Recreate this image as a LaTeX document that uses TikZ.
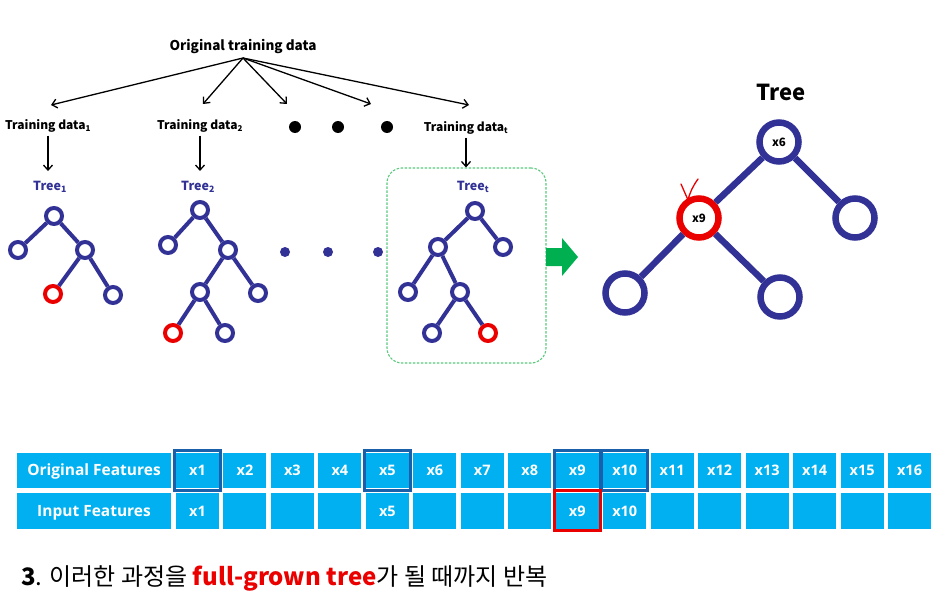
\documentclass[tikz,border=0pt]{standalone}
\usepackage{fontspec}
\setmainfont{Noto Sans CJK KR}
\newfontfamily\gill{Open Sans}
\usetikzlibrary{arrows.meta}
\definecolor{navy}{RGB}{50,50,150}
\definecolor{cellblue}{RGB}{0,176,240}
\definecolor{hiblue}{RGB}{25,95,170}
\definecolor{boxgreen}{RGB}{90,200,125}
\definecolor{arrgreen}{RGB}{0,176,80}
\definecolor{myred}{RGB}{235,0,0}
\begin{document}
\begin{tikzpicture}[x=1pt,y=-1pt,
  tn/.style={circle,draw=navy,line width=4pt,fill=white,minimum size=16pt,inner sep=0pt},
  rn/.style={tn,draw=myred},
  te/.style={draw=navy,line width=4pt},
  bn/.style={circle,draw=navy,line width=6.5pt,fill=white,minimum size=39pt,inner sep=0pt,font=\bfseries\fontsize{11.5}{11.5}\selectfont},
  brn/.style={bn,draw=myred},
  be/.style={draw=navy,line width=6.5pt},
  arr/.style={-{Straight Barb[length=5pt,width=9pt]},line width=1.3pt},
  lab/.style={font=\bfseries\fontsize{12}{12}\selectfont,inner sep=1pt},
  tlab/.style={font=\bfseries\fontsize{12.5}{13}\selectfont,text=navy,inner sep=1pt},
  bdot/.style={circle,fill=black,minimum size=12pt,inner sep=0pt},
  ndot/.style={circle,fill=navy,minimum size=10pt,inner sep=0pt},
  hdr/.style={fill=cellblue,text=white,inner sep=0pt,minimum width=154pt,text height=10pt,text depth=0pt,font=\gill\bfseries\fontsize{15.5}{16}\selectfont},
  cell/.style={fill=cellblue,text=white,inner sep=0pt,minimum width=43pt,text height=10pt,text depth=0pt,font=\gill\bfseries\fontsize{14.5}{15}\selectfont},
  ctext/.style={text=white,inner sep=0pt,text height=10pt,text depth=0pt,font=\gill\bfseries\fontsize{14.5}{15}\selectfont},
  hi/.style={draw=hiblue,line width=3pt},
  hr/.style={draw=myred,line width=3pt}
]
\useasboundingbox (0,0) rectangle (952,599);

% ---------- top distribution ----------
\node[font=\bfseries\fontsize{13.5}{14}\selectfont] (orig) at (243,47) {Original training data};
\coordinate (src) at (243,58);
\coordinate (e1) at (51,105);
\coordinate (e2) at (203,104);
\coordinate (e3) at (287,104);
\coordinate (e4) at (371,104);
\coordinate (e5) at (469,105);
\foreach \e in {e1,e2,e3,e4,e5} \draw[arr] (src) -- (\e);

\node[lab] (td1) at (48,126) {Training data\textsubscript{1}};
\node[lab] (td2) at (200,126) {Training data\textsubscript{2}};
\node[lab] (tdt) at (466,128) {Training data\textsubscript{t}};
\node[bdot] (d1) at (295,127) {};
\node[bdot] (d2) at (338,127) {};
\node[bdot] (d3) at (387,127) {};

% ---------- tree labels ----------
\node[tlab] (t1lab) at (50,187) {Tree\textsubscript{1}};
\node[tlab] (t2lab) at (198,187) {Tree\textsubscript{2}};
\node[tlab] (ttlab) at (473,187) {Tree\textsubscript{t}};

\draw[arr,shorten <=2pt,shorten >=9pt] (td1.south) -- (td1.south |- t1lab.north);
\draw[arr,shorten <=2pt,shorten >=9pt] (td2.south) -- (td2.south |- t2lab.north);

% ---------- green box ----------
\node[draw=boxgreen,line width=1.1pt,dash pattern=on 2.5pt off 1.5pt,rounded corners=15pt,minimum width=159pt,minimum height=195pt] (box) at (466.5,265.5) {};
\draw[arr,shorten <=2pt] (tdt.south) -- (tdt.south |- box.north);

% ---------- tree 1 ----------
\node[tn] (a1) at (54,216) {};
\node[tn] (a2) at (18,250) {};
\node[tn] (a3) at (85,250) {};
\node[rn] (a4) at (53,294) {};
\node[tn] (a5) at (113,295) {};
\draw[te] (a1) -- (a2);
\draw[te] (a1) -- (a3);
\draw[te] (a3) -- (a4);
\draw[te] (a3) -- (a5);

% ---------- tree 2 ----------
\node[tn] (b1) at (200,210) {};
\node[tn] (b2) at (168,245) {};
\node[tn] (b3) at (228,250) {};
\node[tn] (b4) at (200,292) {};
\node[tn] (b5) at (258,293) {};
\node[rn] (b6) at (173,333) {};
\node[tn] (b7) at (225,333) {};
\draw[te] (b1) -- (b2);
\draw[te] (b1) -- (b3);
\draw[te] (b3) -- (b4);
\draw[te] (b3) -- (b5);
\draw[te] (b4) -- (b6);
\draw[te] (b4) -- (b7);

% ---------- dots ----------
\node[ndot] (n1) at (285,252) {};
\node[ndot] (n2) at (328,252) {};
\node[ndot] (n3) at (378,252) {};

% ---------- tree t ----------
\node[tn] (c1) at (475,211) {};
\node[tn] (c2) at (438,247) {};
\node[tn] (c3) at (503,247) {};
\node[tn] (c4) at (408,292) {};
\node[tn] (c5) at (460,292) {};
\node[tn] (c6) at (432,333) {};
\node[rn] (c7) at (488,333) {};
\draw[te] (c1) -- (c2);
\draw[te] (c1) -- (c3);
\draw[te] (c2) -- (c4);
\draw[te] (c2) -- (c5);
\draw[te] (c5) -- (c6);
\draw[te] (c5) -- (c7);

% ---------- green arrow ----------
\fill[arrgreen] (546,248) -- (562,248) -- (562,238) -- (578,257) -- (562,276) -- (562,266) -- (546,266) -- cycle;

% ---------- big tree ----------
\node[font=\bfseries\fontsize{22}{22}\selectfont] (treelab) at (781,92) {Tree};
\node[bn] (x6) at (779,142) {x6};
\node[brn] (x9) at (699,218) {x9};
\node[bn] (br) at (855,218) {};
\node[bn] (bl) at (625,293) {};
\node[bn] (bm) at (780,297) {};
\draw[be] (x6) -- (x9);
\draw[be] (x6) -- (br);
\draw[be] (x9) -- (bl);
\draw[be] (x9) -- (bm);
\draw[myred,line width=1.3pt,line cap=round,line join=round] (681,184) -- (688,200) .. controls (690,192) and (693,186) .. (698,179);

% ---------- feature table ----------
\node[hdr,minimum height=35pt] (oh) at (94,470.5) {Original Features};
\node[hdr,minimum height=36pt] (ih) at (94,511) {Input Features};
\foreach \i in {1,...,16} {
  \node[cell,minimum height=35pt] (o\i) at ({197.5+(\i-1)*47.47},470.5) {x\i};
}
\foreach \i in {1,...,16} {
  \node[cell,minimum height=36pt] (i\i) at ({197.5+(\i-1)*47.47},511) {};
}
\foreach \i in {1,5,9,10} {
  \node[ctext] (it\i) at (i\i) {x\i};
}
\foreach \i in {1,5,9,10} {
  \draw[hi] ([shift={(-1.5,-2)}]o\i.north west) rectangle ([shift={(1.5,2)}]o\i.south east);
}
\draw[hr] ([shift={(-1.5,-2)}]i9.north west) rectangle ([shift={(1.5,1.5)}]i9.south east);

% ---------- caption ----------
\node[anchor=base west,inner sep=0pt,font=\fontsize{24}{24}\selectfont] (caption) at (21,585) {\textbf{3}. 이러한 과정을 \textcolor{myred}{\textbf{full-grown tree}}가 될 때까지 반복};
\end{tikzpicture}
\end{document}
